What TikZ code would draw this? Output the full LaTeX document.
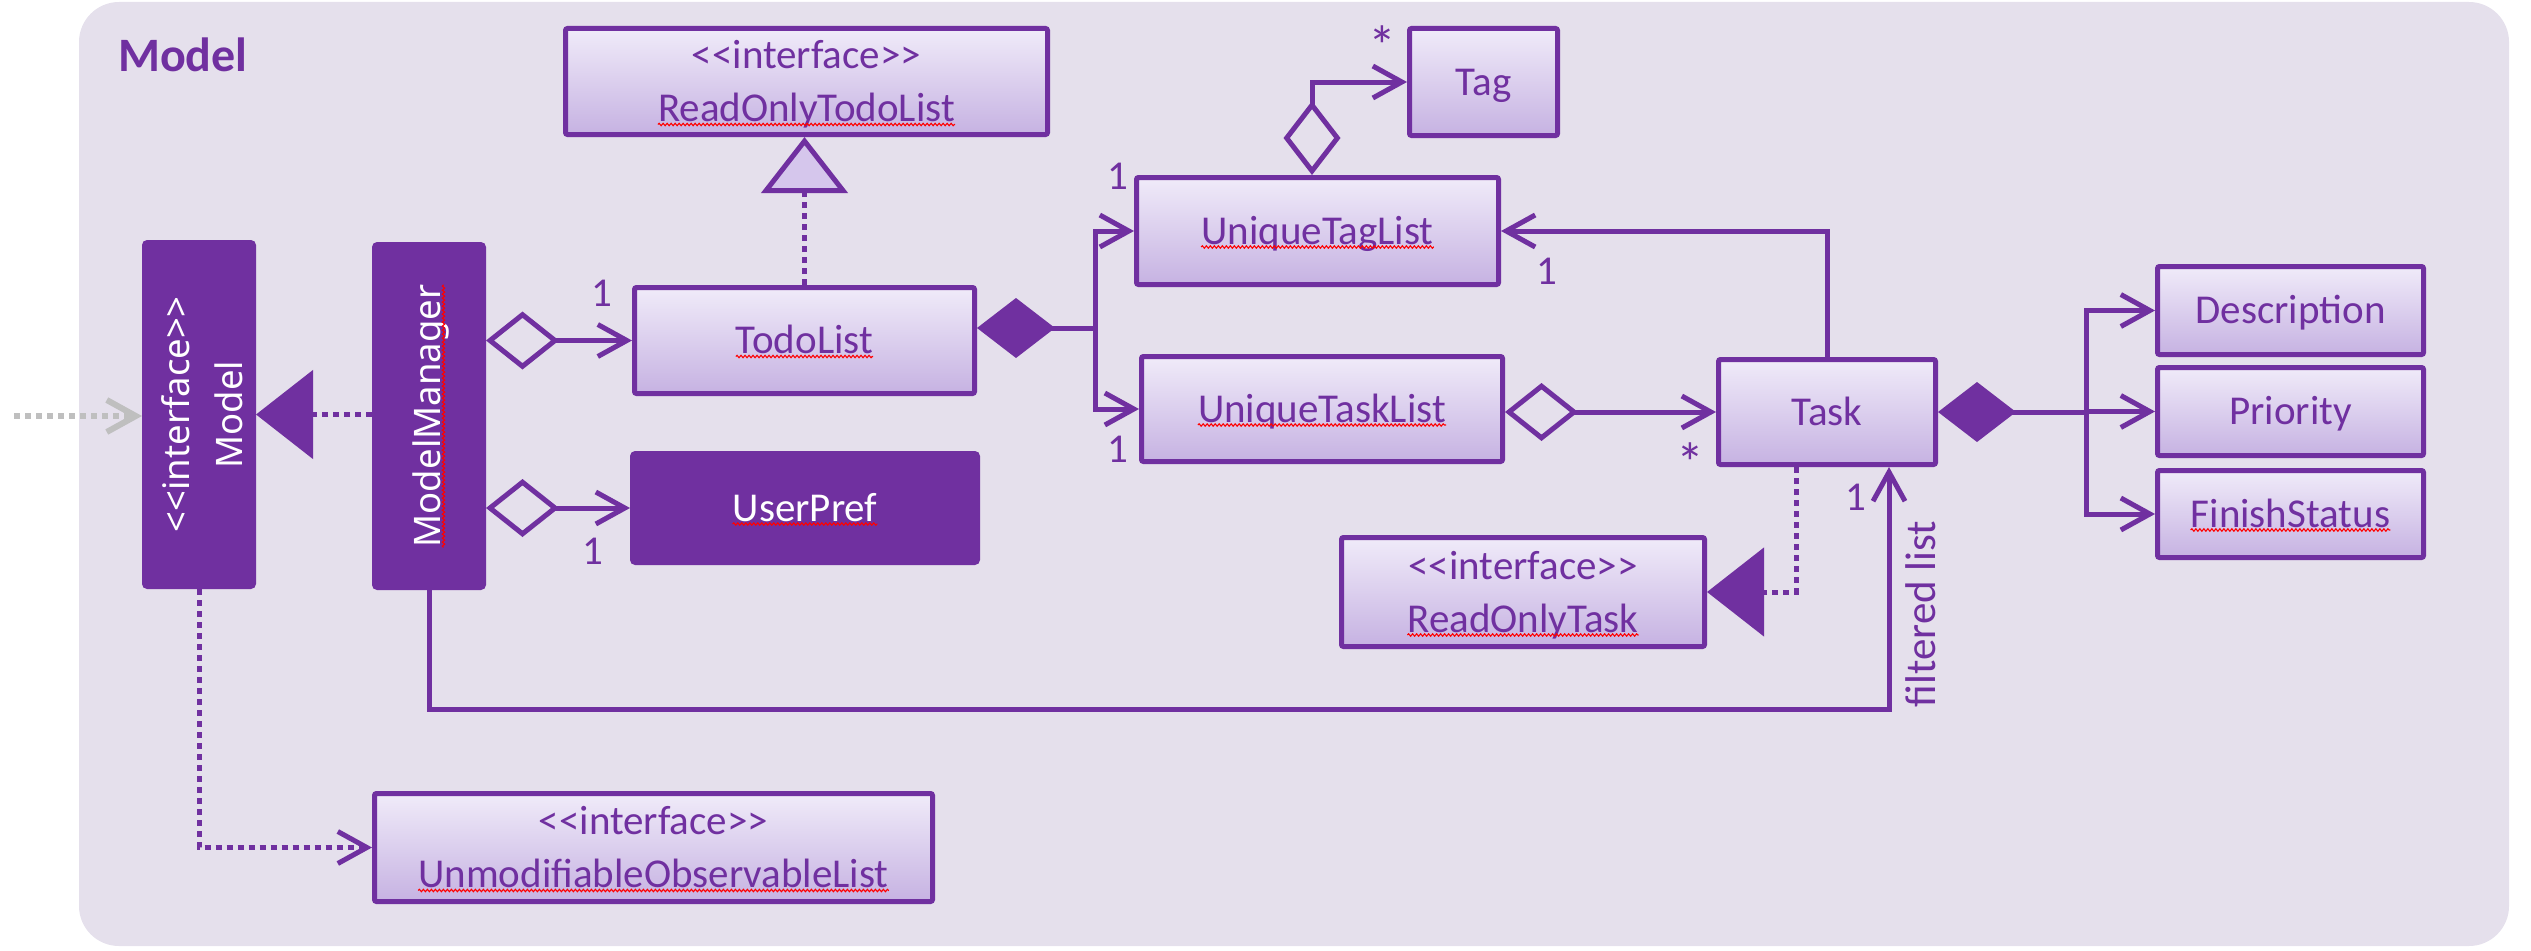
\documentclass[tikz,border=0pt]{standalone}
\usepackage{fontspec}
\setmainfont{Carlito}
\newfontfamily\notosans{Noto Sans}
\usetikzlibrary{arrows.meta,decorations.pathmorphing}
\definecolor{pur}{HTML}{7030A0}
\definecolor{bg}{HTML}{E5E0EC}
\definecolor{boxtop}{HTML}{F0EBF9}
\definecolor{boxbot}{HTML}{C6B2E2}
\definecolor{trifill}{HTML}{D5C6EC}
\definecolor{arrgray}{HTML}{BFBFBF}
\tikzset{
  obarb/.tip={Straight Barb[length=29pt,width=32pt]},
  hdia/.tip={Diamond[open,length=73pt,width=58pt]},
  fdia/.tip={Diamond[length=78pt,width=60pt]},
  ltri/.tip={Triangle[length=56pt,width=86pt,fill=trifill]},
  ftri/.tip={Triangle[length=57pt,width=88pt]},
  frame/.style={fill=bg, draw=none, rounded corners=40pt, inner sep=0pt, minimum width=2430pt, minimum height=944pt},
  box/.style={draw=pur, line width=5pt, top color=boxtop, bottom color=boxbot, inner sep=0pt, rounded corners=2pt},
  dark/.style={draw=pur, fill=pur, line width=5pt, inner sep=0pt, rounded corners=3pt},
  txt/.style={text=pur, font=\fontsize{41}{50}\selectfont, inner sep=0pt, anchor=base},
  wtxt/.style={txt, text=white},
  rtxt/.style={text=white, font=\notosans\fontsize{36.5}{44}\selectfont, inner sep=0pt, anchor=base, rotate=90},
  lbl/.style={text=pur, font=\fontsize{41}{50}\selectfont, inner sep=0pt},
  star/.style={text=pur, font=\fontsize{56}{60}\selectfont, inner sep=0pt, anchor=base},
  ttl/.style={text=pur, font=\bfseries\fontsize{48}{56}\selectfont, inner sep=0pt},
  conn/.style={draw=pur, line width=5pt},
  dotline/.style={conn, dash pattern=on 6pt off 5pt},
  graydot/.style={draw=arrgray, line width=6pt, dash pattern=on 6pt off 5pt},
  squig/.style={draw=red, line width=1.1pt, decorate, decoration={snake, amplitude=1.2pt, segment length=4pt}},
}
\begin{document}
\begin{tikzpicture}[x=1pt,y=-1pt]
\useasboundingbox (0,0) rectangle (2531,950);
\node[frame] (frame) at (1294,474) {};
\node[ttl, anchor=base west] (title) at (118,71) {Model};

% boxes
\node[box, minimum width=482pt, minimum height=106pt] (rotl) at (806.5,81.5) {};
\node[txt] (rotl-s) at (806.5,68.5) {<{}<interface>{}>};
\node[txt] (rotl-n) at (806.5,121.5) {ReadOnlyTodoList};

\node[box, minimum width=340pt, minimum height=106pt] (todo) at (804.5,340.5) {};
\node[txt] (todo-t) at (804.5,353.5) {TodoList};

\node[dark, minimum width=109pt, minimum height=344pt] (model) at (199,414.5) {};
\node[rtxt] (model-s) at (189,414.5) {<{}<interface>{}>};
\node[rtxt] (model-n) at (242,414.5) {Model};

\node[dark, minimum width=109pt, minimum height=343pt] (mm) at (429,416) {};
\node[rtxt] (mm-t) at (440,416) {ModelManager};

\node[dark, minimum width=345pt, minimum height=109pt] (user) at (805,508) {};
\node[wtxt] (user-t) at (805,521) {UserPref};

\node[box, minimum width=148pt, minimum height=107pt] (tag) at (1483.5,82) {};
\node[txt] (tag-t) at (1483.5,95) {Tag};

\node[box, minimum width=362pt, minimum height=107pt] (utl) at (1317.5,231) {};
\node[txt] (utl-t) at (1317.5,244) {UniqueTagList};

\node[box, minimum width=361pt, minimum height=105pt] (utsk) at (1322,409) {};
\node[txt] (utsk-t) at (1322,422) {UniqueTaskList};

\node[box, minimum width=217pt, minimum height=105pt] (task) at (1827,412) {};
\node[txt] (task-t) at (1827,425) {Task};

\node[box, minimum width=266pt, minimum height=88pt] (desc) at (2290.5,310.5) {};
\node[txt] (desc-t) at (2290.5,323.5) {Description};
\node[box, minimum width=266pt, minimum height=88pt] (prio) at (2290.5,411.5) {};
\node[txt] (prio-t) at (2290.5,424.5) {Priority};
\node[box, minimum width=266pt, minimum height=87pt] (fin) at (2290.5,514) {};
\node[txt] (fin-t) at (2290.5,527) {FinishStatus};

\node[box, minimum width=363pt, minimum height=109pt] (rot) at (1523,592) {};
\node[txt] (rot-s) at (1523,579) {<{}<interface>{}>};
\node[txt] (rot-n) at (1523,632) {ReadOnlyTask};

\node[box, minimum width=558pt, minimum height=108pt] (unmod) at (653.5,847.5) {};
\node[txt] (unmod-s) at (653.5,834.5) {<{}<interface>{}>};
\node[txt] (unmod-n) at (653.5,887.5) {UnmodifiableObservableList};

% spell-check squiggles
\foreach \n in {rotl-n,todo-t,user-t,utl-t,utsk-t,fin-t,rot-n,unmod-n}
  \draw[squig] ([yshift=-3pt]\n.base west) -- ([yshift=-3pt]\n.base east);
\draw[squig] ([xshift=3.5pt]mm-t.base west) -- ([xshift=3.5pt]mm-t.base east);

% coordinates
\coordinate (ext) at (14,416);
\coordinate (tdj) at (1095,328);
\coordinate (tj) at (2086,412);
\coordinate (fl) at (1889,709);

% connectors
\draw[graydot, -obarb] (ext) -- (ext -| model.west);
\draw[dotline, -ftri] (mm.west |- model.east) -- (model.east);
\draw[dotline, -ltri] (todo.north) -- (todo.north |- rotl.south);
\draw[conn, hdia-obarb] (mm.east |- todo.west) -- (todo.west);
\draw[conn, hdia-obarb] (mm.east |- user.west) -- (user.west);
\draw[conn, fdia-] ([yshift=12.5pt]todo.east) -- (tdj);
\draw[conn, -obarb] (tdj) |- (utl.west);
\draw[conn, -obarb] (tdj) |- (utsk.west);
\draw[conn, {Diamond[open,length=74pt,width=57pt]}-obarb] ([xshift=-5.5pt]utl.north) |- (tag.west);
\draw[conn, hdia-obarb] (utsk.east |- task.west) -- (task.west);
\draw[conn, -obarb] (task.north) |- (utl.east);
\draw[conn, fdia-] (task.east) -- (tj);
\draw[conn, -obarb] (tj) |- (desc.west);
\draw[conn, -obarb] (tj) |- (prio.west);
\draw[conn, -obarb] (tj) |- (fin.west);
\draw[dotline, -ftri] ([xshift=-31pt]task.south) |- (rot.east);
\draw[conn, -obarb] (mm.south) |- (fl) -- (fl |- task.south);
\draw[dotline, -obarb] (model.south) |- (unmod.west);

% labels
\node[lbl] (l1) at (602,293) {1};
\node[lbl] (l2) at (593,551) {1};
\node[lbl] (l3) at (1118,176) {1};
\node[lbl] (l4) at (1118,449) {1};
\node[star] (l5) at (1382,66) {*};
\node[lbl] (l6) at (1547,271) {1};
\node[star] (l7) at (1690,482) {*};
\node[lbl] (l8) at (1856,497) {1};
\node[text=pur, font=\fontsize{43}{50}\selectfont, inner sep=0pt, anchor=base, rotate=90] (flt) at (1935,614) {filtered list};
\end{tikzpicture}
\end{document}
